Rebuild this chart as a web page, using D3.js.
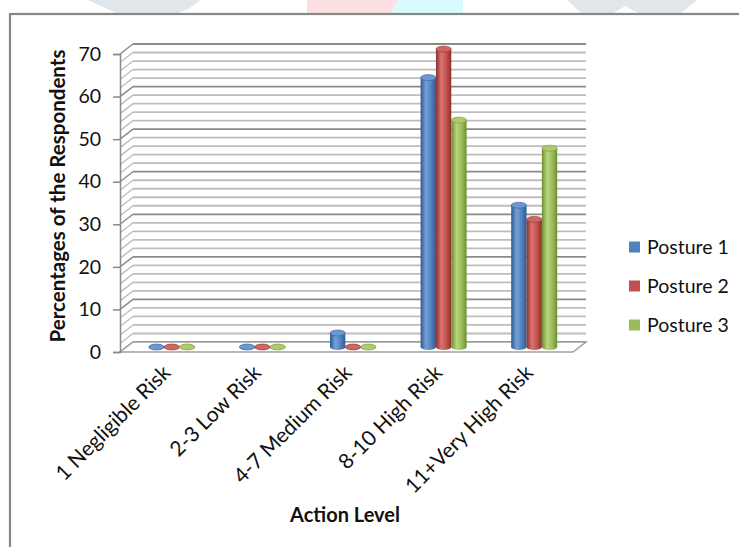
<!DOCTYPE html>
<html>
<head>
<meta charset="utf-8">
<script src="https://cdn.jsdelivr.net/npm/d3@7"></script>
<style>
	body { margin: 0; background: #fff; }
	text { font-family: Lato, 'Open Sans', sans-serif; fill: #111; }
</style>
</head>
<body>
<script>
const categories = ['1 Negligible Risk', '2-3 Low Risk', '4-7 Medium Risk', '8-10 High Risk', '11+Very High Risk']
const seriesNames = ['Posture 1', 'Posture 2', 'Posture 3']
const posture1 = [0, 0, 3.3, 63.3, 33.3]
const posture2 = [0, 0, 0, 70, 30]
const posture3 = [0, 0, 0, 53.3, 46.7]
const yTicks = [0, 10, 20, 30, 40, 50, 60, 70]

const series = [posture1, posture2, posture3]
const colors = [
	{base: '#4F81BD', dark: '#2E5990', light: '#74A0D8', top: '#6C97CF'},
	{base: '#C0504D', dark: '#8C2F2C', light: '#DA7571', top: '#D06663'},
	{base: '#9BBB59', dark: '#6E8D34', light: '#B9D67A', top: '#AECB6C'}
]

const W = 739
const H = 547

// front plane of the 3d box, and depth offset
const plot = {left: 120, right: 573, top: 54, bottom: 352}
const DX = 13
const DY = -10

const svg = d3.select('body').append('svg')
	.attr('width', W)
	.attr('height', H)

// faint watermark peeking out above the chart frame
const wm = svg.append('g')
wm.append('path').attr('d', 'M88,0 L140,0 L150,14 L118,14 Z').attr('fill', '#e1e6eb')
wm.append('path').attr('d', 'M140,0 L200,0 Q190,10 175,14 L150,14 Z').attr('fill', '#e1e6eb')
wm.append('path').attr('d', 'M307,0 L398,0 L391,14 L307,14 Z').attr('fill', '#fde1e2')
wm.append('path').attr('d', 'M398,0 L463,0 L463,14 L391,14 Z').attr('fill', '#d9fbfd')
wm.append('path').attr('d', 'M567,0 L697,0 L680,14 L640,14 L625,6 L612,14 L582,14 Z').attr('fill', '#e1e6eb')

svg.append('rect')
	.attr('x', 10)
	.attr('y', 14)
	.attr('width', W)
	.attr('height', H)
	.attr('fill', '#fff')
	.attr('stroke', '#878787')
	.attr('stroke-width', 2.2)

const x = d3.scaleBand()
	.domain(categories)
	.range([plot.left, plot.right])

const y = d3.scaleLinear()
	.domain([0, 70])
	.range([plot.bottom, plot.top])

const groupW = 46
const xs = d3.scaleBand()
	.domain(seriesNames)
	.range([0, groupW])

// back wall + side wall gridlines
const grid = svg.append('g')
y.ticks(35).forEach(v => {
	const major = v % 10 === 0
	const col = major ? '#8a8a8a' : '#bdbdbd'
	grid.append('line')
		.attr('x1', plot.left + DX).attr('x2', plot.right + DX)
		.attr('y1', y(v) + DY).attr('y2', y(v) + DY)
		.attr('stroke', col).attr('stroke-width', 1.8)
	grid.append('line')
		.attr('x1', plot.left).attr('x2', plot.left + DX)
		.attr('y1', y(v)).attr('y2', y(v) + DY)
		.attr('stroke', col).attr('stroke-width', 1.4)
})

// floor
svg.append('path')
	.attr('d', `M${plot.left},${plot.bottom} L${plot.right},${plot.bottom} L${plot.right + DX},${plot.bottom + DY} L${plot.left + DX},${plot.bottom + DY} Z`)
	.attr('fill', '#fff')
	.attr('stroke', '#a0a0a0')
	.attr('stroke-width', 1.5)

// y axis
const yAxis = d3.axisLeft(y)
	.tickValues(yTicks)
	.tickSize(7)
	.tickPadding(12)

const yg = svg.append('g')
	.attr('transform', `translate(${plot.left},0)`)
	.call(yAxis)
yg.select('.domain').attr('stroke', '#8a8a8a').attr('stroke-width', 1.5)
yg.selectAll('.tick line').attr('stroke', '#8a8a8a').attr('stroke-width', 1.5)
yg.selectAll('.tick text')
	.style('font-family', 'Lato, sans-serif')
	.style('font-size', '19.5px')
	.attr('fill', '#1a1a1a')

// cylinder gradients
const defs = svg.append('defs')
colors.forEach((c, i) => {
	const g = defs.append('linearGradient')
		.attr('id', 'cyl' + i)
		.attr('x1', '0%').attr('x2', '100%')
	g.append('stop').attr('offset', '0%').attr('stop-color', c.dark)
	g.append('stop').attr('offset', '35%').attr('stop-color', c.light)
	g.append('stop').attr('offset', '70%').attr('stop-color', c.base)
	g.append('stop').attr('offset', '100%').attr('stop-color', c.dark)
})

// bars as cylinders sitting at middle depth
const bw = xs.bandwidth()
const ry = 3
const base = y(0) + DY / 2
const barData = []
series.forEach((vals, s) => {
	vals.forEach((v, i) => barData.push({cat: categories[i], s, v}))
})

const bars = svg.selectAll('.bar')
	.data(barData)
	.enter()
		.append('g')
			.attr('class', 'bar')
			.attr('transform', d => `translate(${x(d.cat) + DX / 2 + (x.bandwidth() - groupW) / 2 + xs(seriesNames[d.s])},0)`)

bars.append('ellipse')
	.attr('cx', bw / 2)
	.attr('cy', base)
	.attr('rx', bw / 2)
	.attr('ry', ry)
	.attr('fill', d => `url(#cyl${d.s})`)

bars.append('rect')
	.attr('x', 0)
	.attr('width', bw)
	.attr('y', d => y(d.v) + DY / 2)
	.attr('height', d => base - (y(d.v) + DY / 2))
	.attr('fill', d => `url(#cyl${d.s})`)

bars.append('ellipse')
	.attr('cx', bw / 2)
	.attr('cy', d => y(d.v) + DY / 2)
	.attr('rx', bw / 2)
	.attr('ry', ry)
	.attr('fill', d => colors[d.s].top)
	.attr('stroke', d => colors[d.s].dark)
	.attr('stroke-width', 0.5)

// category labels, rotated
svg.append('g')
	.selectAll('text')
	.data(categories)
	.enter()
		.append('text')
			.attr('text-anchor', 'end')
			.attr('transform', d => `translate(${x(d) + x.bandwidth() / 2 + DX / 2},374) rotate(-45)`)
			.style('font-size', '21px')
			.text(d => d)

// axis titles
svg.append('text')
	.attr('text-anchor', 'middle')
	.attr('transform', 'translate(65,196) rotate(-90)')
	.style('font-size', '20.5px')
	.style('font-weight', 'bold')
	.text('Percentages of the Respondents')

svg.append('text')
	.attr('text-anchor', 'middle')
	.attr('x', 345)
	.attr('y', 522)
	.style('font-size', '20px')
	.style('font-weight', 'bold')
	.text('Action Level')

// legend
const ly = d3.scalePoint()
	.domain(seriesNames)
	.range([247, 325])

const legend = svg.append('g')
	.selectAll('g')
	.data(seriesNames)
	.enter()
		.append('g')
			.attr('transform', d => `translate(629,${ly(d)})`)

legend.append('rect')
	.attr('x', 0)
	.attr('y', -5.5)
	.attr('width', 11)
	.attr('height', 11)
	.attr('fill', (d, i) => colors[i].base)

legend.append('text')
	.attr('x', 18)
	.attr('y', 7)
	.style('font-size', '19.5px')
	.text(d => d)
</script>
</body>
</html>
